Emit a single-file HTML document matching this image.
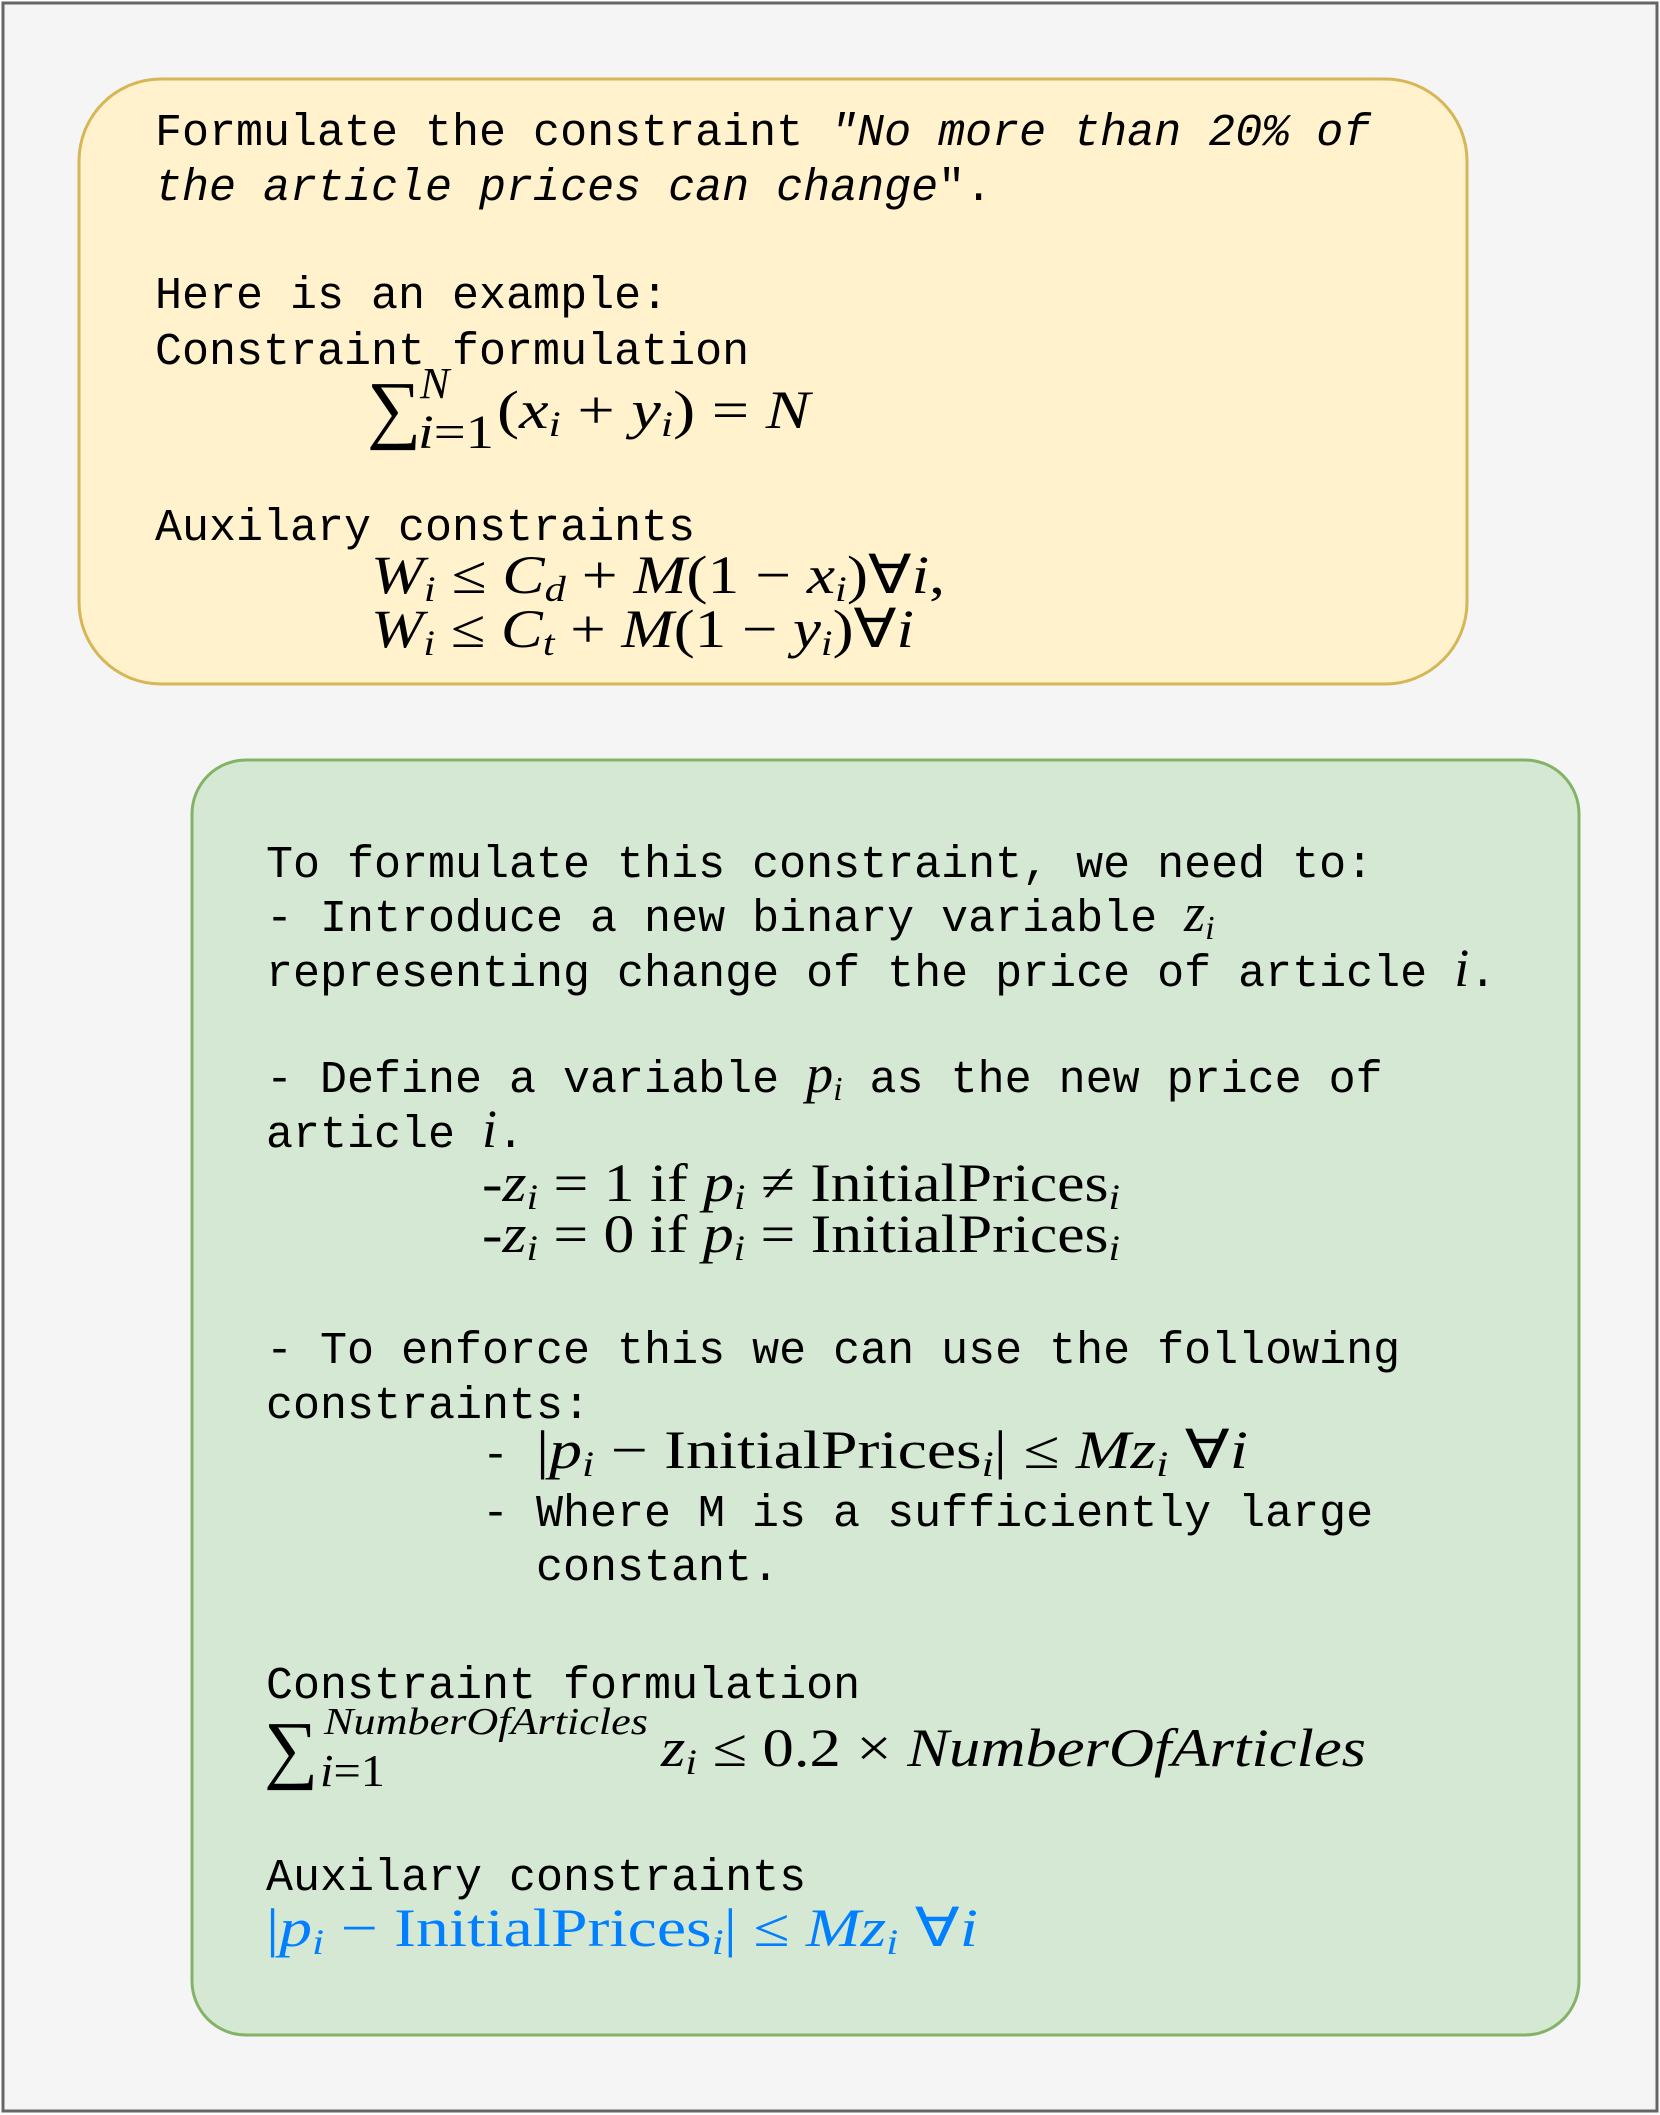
<!DOCTYPE html>
<html><head><meta charset="utf-8"><style>
html,body{margin:0;padding:0;background:#fff}
svg{display:block}
.m{font-family:"Liberation Mono",monospace;font-size:45px;fill:#000}
.s{font-family:"Liberation Serif",serif;font-size:54px;fill:#000}
.i{font-style:italic}
</style></head><body>
<svg width="1660" height="2115" viewBox="0 0 1660 2115" xmlns="http://www.w3.org/2000/svg">
<rect x="3" y="3" width="1654" height="2108" fill="#f5f5f5" stroke="#666" stroke-width="3"/>
<rect x="79" y="79" width="1388" height="605" rx="82" ry="82" fill="#fff2cc" stroke="#d6b656" stroke-width="3"/>
<rect x="192" y="760" width="1387" height="1275" rx="54" ry="54" fill="#d5e8d4" stroke="#82b366" stroke-width="3"/>

<!-- yellow -->
<text class="m" x="155" y="145">Formulate the constraint <tspan font-style="italic">"No more than 20% of</tspan></text>
<text class="m" x="155" y="200"><tspan font-style="italic">the article prices can change</tspan>".</text>
<text class="m" x="155" y="308">Here is an example:</text>
<text class="m" x="155" y="364">Constraint formulation</text>
<text class="s" x="367" y="434" style="font-size:76px">∑</text>
<text class="s i" x="420" y="398" style="font-size:44px">N</text>
<text class="s" x="418" y="448" style="font-size:48px" textLength="76" lengthAdjust="spacingAndGlyphs"><tspan font-style="italic">i</tspan>=1</text>
<text class="s" x="497" y="428" textLength="313" lengthAdjust="spacingAndGlyphs">(<tspan font-style="italic">x</tspan><tspan font-style="italic" font-size="36" dy="8">i</tspan><tspan dy="-8"> + </tspan><tspan font-style="italic">y</tspan><tspan font-style="italic" font-size="36" dy="8">i</tspan><tspan dy="-8">) = </tspan><tspan font-style="italic">N</tspan></text>
<text class="m" x="155" y="540">Auxilary constraints</text>
<text class="s" x="371" y="593" textLength="574" lengthAdjust="spacingAndGlyphs"><tspan font-style="italic">W</tspan><tspan font-style="italic" font-size="36" dy="8">i</tspan><tspan dy="-8"> ≤ </tspan><tspan font-style="italic">C</tspan><tspan font-style="italic" font-size="36" dy="8">d</tspan><tspan dy="-8"> + </tspan><tspan font-style="italic">M</tspan>(1 − <tspan font-style="italic">x</tspan><tspan font-style="italic" font-size="36" dy="8">i</tspan><tspan dy="-8">)∀</tspan><tspan font-style="italic">i</tspan>,</text>
<text class="s" x="371" y="647" textLength="543" lengthAdjust="spacingAndGlyphs"><tspan font-style="italic">W</tspan><tspan font-style="italic" font-size="36" dy="8">i</tspan><tspan dy="-8"> ≤ </tspan><tspan font-style="italic">C</tspan><tspan font-style="italic" font-size="36" dy="8">t</tspan><tspan dy="-8"> + </tspan><tspan font-style="italic">M</tspan>(1 − <tspan font-style="italic">y</tspan><tspan font-style="italic" font-size="36" dy="8">i</tspan><tspan dy="-8">)∀</tspan><tspan font-style="italic">i</tspan></text>

<!-- green -->
<text class="m" x="266" y="877">To formulate this constraint, we need to:</text>
<text class="m" x="266" y="931">- Introduce a new binary variable <tspan class="s i">z</tspan><tspan class="i" style="font-family:'Liberation Serif',serif;font-size:34px" dy="8">i</tspan></text>
<text class="m" x="266" y="986">representing change of the price of article <tspan class="s i">i</tspan>.</text>
<text class="m" x="266" y="1092">- Define a variable <tspan class="s i">p</tspan><tspan class="i" style="font-family:'Liberation Serif',serif;font-size:34px" dy="8">i</tspan><tspan dy="-8"> as the new price of</tspan></text>
<text class="m" x="266" y="1147">article <tspan class="s i">i</tspan>.</text>
<text class="s" x="482" y="1201" textLength="638" lengthAdjust="spacingAndGlyphs">-<tspan font-style="italic">z</tspan><tspan font-style="italic" font-size="36" dy="8">i</tspan><tspan dy="-8"> = 1 if </tspan><tspan font-style="italic">p</tspan><tspan font-style="italic" font-size="36" dy="8">i</tspan><tspan dy="-8"> ≠ InitialPrices</tspan><tspan font-style="italic" font-size="36" dy="8">i</tspan></text>
<text class="s" x="482" y="1252" textLength="638" lengthAdjust="spacingAndGlyphs">-<tspan font-style="italic">z</tspan><tspan font-style="italic" font-size="36" dy="8">i</tspan><tspan dy="-8"> = 0 if </tspan><tspan font-style="italic">p</tspan><tspan font-style="italic" font-size="36" dy="8">i</tspan><tspan dy="-8"> = InitialPrices</tspan><tspan font-style="italic" font-size="36" dy="8">i</tspan></text>
<text class="m" x="266" y="1363">- To enforce this we can use the following</text>
<text class="m" x="266" y="1418">constraints:</text>
<text class="m" x="482" y="1468">-</text>
<text class="s" x="536" y="1468" textLength="712" lengthAdjust="spacingAndGlyphs">|<tspan font-style="italic">p</tspan><tspan font-style="italic" font-size="36" dy="8">i</tspan><tspan dy="-8"> − InitialPrices</tspan><tspan font-style="italic" font-size="36" dy="8">i</tspan><tspan dy="-8">| ≤ </tspan><tspan font-style="italic">Mz</tspan><tspan font-style="italic" font-size="36" dy="8">i</tspan><tspan dy="-8">     ∀</tspan><tspan font-style="italic">i</tspan></text>
<text class="m" x="482" y="1526">- Where M is a sufficiently large</text>
<text class="m" x="536" y="1580">constant.</text>
<text class="m" x="266" y="1698">Constraint formulation</text>
<text class="s" x="264" y="1774" style="font-size:76px">∑</text>
<text class="s i" x="324" y="1734" style="font-size:38px" textLength="324" lengthAdjust="spacingAndGlyphs">NumberOfArticles</text>
<text class="s" x="320" y="1786" style="font-size:46px" textLength="65" lengthAdjust="spacingAndGlyphs"><tspan font-style="italic">i</tspan>=1</text>
<text class="s" x="661" y="1766" textLength="705" lengthAdjust="spacingAndGlyphs"><tspan font-style="italic">z</tspan><tspan font-style="italic" font-size="36" dy="8">i</tspan><tspan dy="-8"> ≤ 0.2 × </tspan><tspan font-style="italic">NumberOfArticles</tspan></text>
<text class="m" x="266" y="1890">Auxilary constraints</text>
<text class="s" x="266" y="1946" style="fill:#007fff" textLength="712" lengthAdjust="spacingAndGlyphs">|<tspan font-style="italic">p</tspan><tspan font-style="italic" font-size="36" dy="8">i</tspan><tspan dy="-8"> − InitialPrices</tspan><tspan font-style="italic" font-size="36" dy="8">i</tspan><tspan dy="-8">| ≤ </tspan><tspan font-style="italic">Mz</tspan><tspan font-style="italic" font-size="36" dy="8">i</tspan><tspan dy="-8">     ∀</tspan><tspan font-style="italic">i</tspan></text>
</svg>
</body></html>
